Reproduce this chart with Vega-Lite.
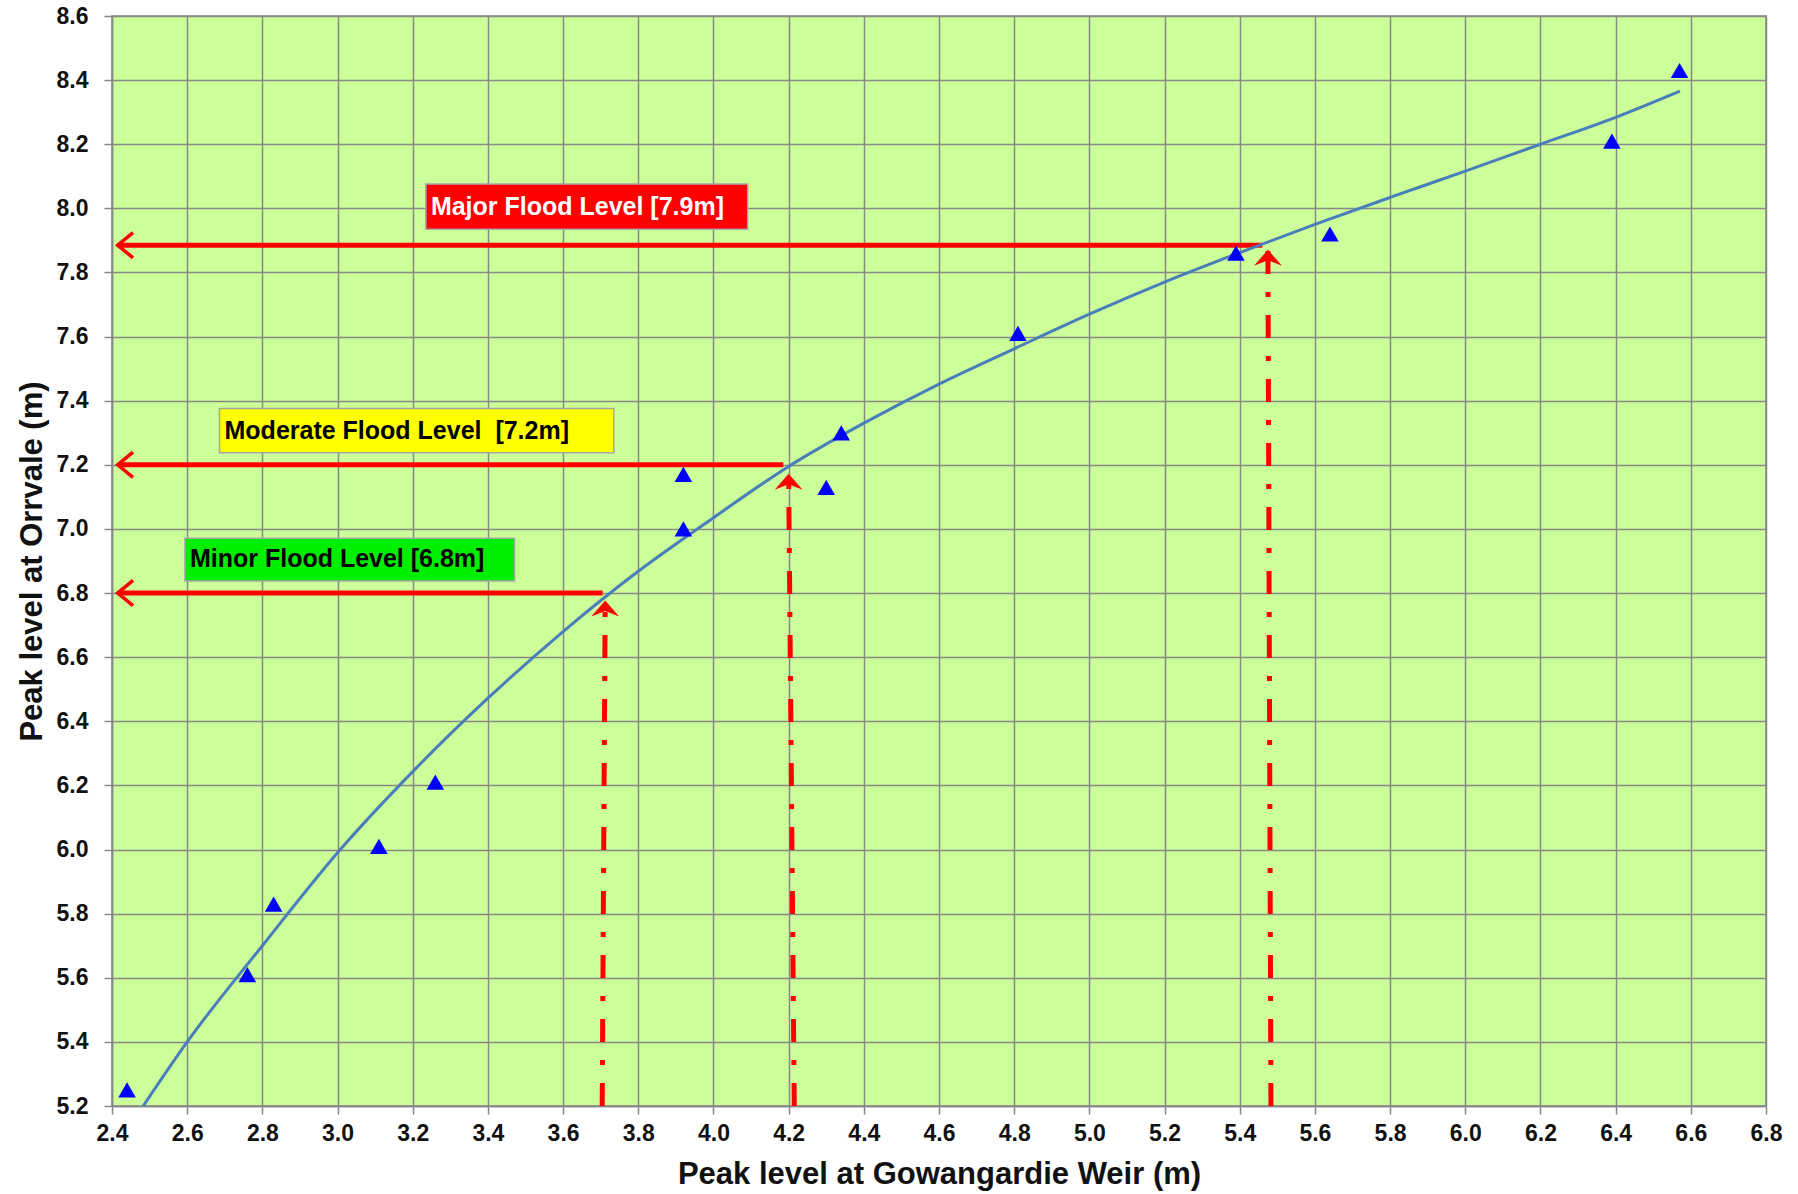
{
  "$schema": "https://vega.github.io/schema/vega-lite/v6.json",
  "width": 1654,
  "height": 1090,
  "autosize": "none",
  "padding": {"left": 112, "top": 16, "right": 32, "bottom": 88},
  "background": "white",
  "config": {
    "view": {"fill": "#ccff99", "stroke": "#888888", "strokeWidth": 1.5},
    "font": "Liberation Sans",
    "axis": {
      "grid": true, "gridColor": "#888888", "gridWidth": 1.5,
      "domainColor": "#888888", "domainWidth": 1.5,
      "tickColor": "#888888", "tickWidth": 1.5, "tickSize": 8,
      "labelFont": "Liberation Sans", "labelFontSize": 23, "labelFontWeight": "bold", "labelColor": "#111111",
      "titleFont": "Liberation Sans", "titleFontSize": 31, "titleFontWeight": "bold", "titleColor": "#111111",
      "labelOverlap": false, "labelFlush": false
    },
    "axisX": {"labelPadding": 8, "titlePadding": 14},
    "axisY": {"labelPadding": 16, "titlePadding": 8}
  },
  "datasets": {
    "obs": [
      {"weir": 2.44, "orrvale": 5.25},
      {"weir": 2.76, "orrvale": 5.61},
      {"weir": 2.83, "orrvale": 5.83},
      {"weir": 3.11, "orrvale": 6.01},
      {"weir": 3.26, "orrvale": 6.21},
      {"weir": 3.92, "orrvale": 7.00},
      {"weir": 3.92, "orrvale": 7.17},
      {"weir": 4.30, "orrvale": 7.13},
      {"weir": 4.34, "orrvale": 7.30},
      {"weir": 4.81, "orrvale": 7.61},
      {"weir": 5.39, "orrvale": 7.86},
      {"weir": 5.64, "orrvale": 7.92},
      {"weir": 6.39, "orrvale": 8.21},
      {"weir": 6.57, "orrvale": 8.43}
    ],
    "trend": [
      {"weir": 2.483, "orrvale": 5.2},
      {"weir": 2.6, "orrvale": 5.4},
      {"weir": 2.8, "orrvale": 5.70},
      {"weir": 3.0, "orrvale": 5.99},
      {"weir": 3.2, "orrvale": 6.243},
      {"weir": 3.4, "orrvale": 6.472},
      {"weir": 3.6, "orrvale": 6.68},
      {"weir": 3.8, "orrvale": 6.868},
      {"weir": 4.0, "orrvale": 7.035},
      {"weir": 4.2, "orrvale": 7.195},
      {"weir": 4.4, "orrvale": 7.33},
      {"weir": 4.6, "orrvale": 7.452},
      {"weir": 4.8, "orrvale": 7.562},
      {"weir": 5.0, "orrvale": 7.67},
      {"weir": 5.2, "orrvale": 7.77},
      {"weir": 5.4, "orrvale": 7.862},
      {"weir": 5.6, "orrvale": 7.95},
      {"weir": 5.8, "orrvale": 8.034},
      {"weir": 6.0, "orrvale": 8.116},
      {"weir": 6.2, "orrvale": 8.2},
      {"weir": 6.4, "orrvale": 8.284},
      {"weir": 6.571, "orrvale": 8.366}
    ],
    "hlines": [
      {"level": "Minor", "weir": 2.415, "weir_end": 3.705, "orrvale": 6.8},
      {"level": "Moderate", "weir": 2.415, "weir_end": 4.186, "orrvale": 7.2},
      {"level": "Major", "weir": 2.415, "weir_end": 5.46, "orrvale": 7.885}
    ],
    "vlines": [
      {"level": "Minor", "end": "bottom", "weir": 3.704, "orrvale": 5.2},
      {"level": "Minor", "end": "top", "weir": 3.712, "orrvale": 6.777},
      {"level": "Moderate", "end": "bottom", "weir": 4.215, "orrvale": 5.2},
      {"level": "Moderate", "end": "top", "weir": 4.2, "orrvale": 7.172},
      {"level": "Major", "end": "bottom", "weir": 5.483, "orrvale": 5.2},
      {"level": "Major", "end": "top", "weir": 5.475, "orrvale": 7.871}
    ],
    "labels": [
      {"level": "Major", "text": "Major Flood Level [7.9m]", "weir": 3.235, "weir_end": 4.091, "orrvale": 7.935, "orrvale_end": 8.076},
      {"level": "Moderate", "text": "Moderate Flood Level \u00a0[7.2m]", "weir": 2.686, "weir_end": 3.735, "orrvale": 7.238, "orrvale_end": 7.376},
      {"level": "Minor", "text": "Minor Flood Level [6.8m]", "weir": 2.594, "weir_end": 3.471, "orrvale": 6.838, "orrvale_end": 6.971}
    ]
  },
  "encoding": {
    "x": {
      "field": "weir", "type": "quantitative",
      "scale": {"domain": [2.4, 6.8], "nice": false, "zero": false},
      "axis": {"values": [2.4, 2.6, 2.8, 3.0, 3.2, 3.4, 3.6, 3.8, 4.0, 4.2, 4.4, 4.6, 4.8, 5.0, 5.2, 5.4, 5.6, 5.8, 6.0, 6.2, 6.4, 6.6, 6.8], "format": ".1f", "title": "Peak level at Gowangardie Weir (m)"}
    },
    "y": {
      "field": "orrvale", "type": "quantitative",
      "scale": {"domain": [5.2, 8.6], "nice": false, "zero": false},
      "axis": {"values": [5.2, 5.4, 5.6, 5.8, 6.0, 6.2, 6.4, 6.6, 6.8, 7.0, 7.2, 7.4, 7.6, 7.8, 8.0, 8.2, 8.4, 8.6], "format": ".1f", "title": "Peak level at Orrvale (m)"}
    }
  },
  "layer": [
    {
      "data": {"name": "hlines"},
      "mark": {"type": "rule", "color": "#ff0000", "strokeWidth": 5},
      "encoding": {"x2": {"field": "weir_end"}}
    },
    {
      "data": {"name": "hlines"},
      "mark": {"type": "point", "shape": "M1.1,-0.9L0,0L1.1,0.9", "filled": false, "stroke": "#ff0000", "strokeWidth": 3.5, "size": 784, "opacity": 1}
    },
    {
      "data": {"name": "vlines"},
      "mark": {"type": "line", "color": "#ff0000", "strokeWidth": 5, "strokeDash": [23, 18, 5, 18]},
      "encoding": {
        "detail": {"field": "level", "type": "nominal"},
        "order": {"field": "orrvale", "type": "quantitative"}
      }
    },
    {
      "data": {"name": "vlines"},
      "transform": [{"filter": "datum.end == 'top'"}],
      "mark": {"type": "point", "shape": "M0,0L1,1.15L0,0.75L-1,1.15Z", "filled": true, "color": "#ff0000", "size": 780, "opacity": 1}
    },
    {
      "data": {"name": "trend"},
      "mark": {"type": "line", "color": "#4a7ebb", "strokeWidth": 3, "interpolate": "monotone"}
    },
    {
      "data": {"name": "obs"},
      "mark": {"type": "point", "shape": "triangle-up", "filled": true, "color": "#0000ff", "size": 310, "opacity": 1}
    },
    {
      "data": {"name": "labels"},
      "mark": {"type": "rect", "stroke": "#a6a6a6", "strokeWidth": 1.5},
      "encoding": {
        "x2": {"field": "weir_end"},
        "y2": {"field": "orrvale_end"},
        "fill": {"field": "level", "type": "nominal", "scale": {"domain": ["Minor", "Moderate", "Major"], "range": ["#00ee00", "#ffff00", "#ff0000"]}, "legend": null}
      }
    },
    {
      "data": {"name": "labels"},
      "mark": {"type": "text", "align": "left", "baseline": "middle", "dx": 5, "dy": -22, "font": "Liberation Sans", "fontSize": 25, "fontWeight": "bold"},
      "encoding": {
        "text": {"field": "text"},
        "color": {"field": "level", "type": "nominal", "scale": {"domain": ["Minor", "Moderate", "Major"], "range": ["#000000", "#000000", "#ffffff"]}, "legend": null}
      }
    }
  ]
}
